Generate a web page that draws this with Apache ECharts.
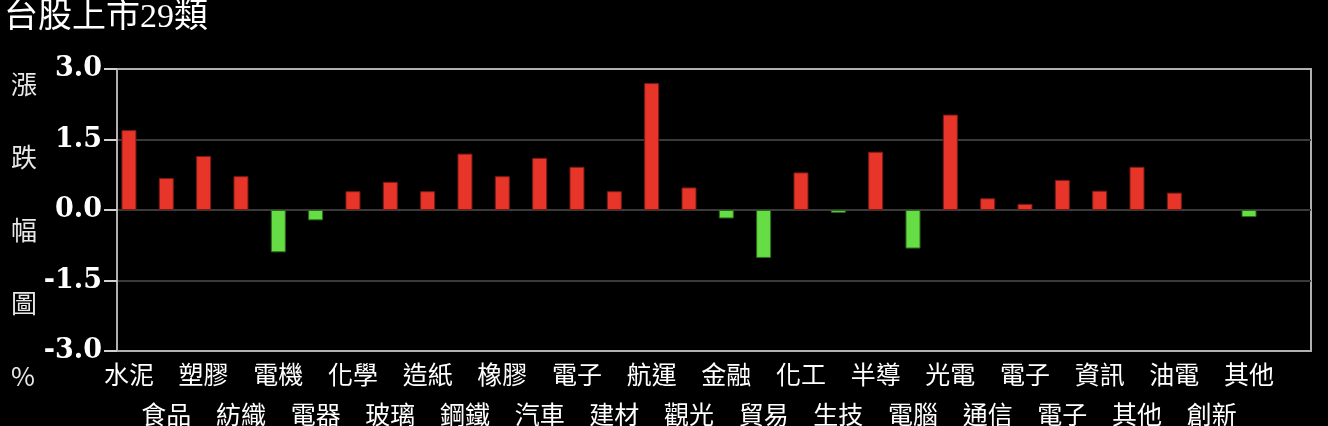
<!DOCTYPE html>
<html>
<head>
<meta charset="utf-8">
<script src="https://cdn.jsdelivr.net/npm/echarts@6/dist/echarts.min.js"></script>
<style>
html,body{margin:0;padding:0;background:#000;}
#chart{width:1328px;height:426px;}
</style>
</head>
<body>
<div id="chart"></div>
<script>
const titleText = '台股上市29類';
const sideLabel = ['漲', '跌', '幅', '圖', '%'];
const categories = ['水泥','食品','塑膠','紡織','電機','電器','化學','玻璃','造紙','鋼鐵','橡膠','汽車','電子','建材','航運','觀光','金融','貿易','化工','生技','半導','電腦','光電','通信','電子','電子','資訊','其他','油電','創新','其他'];
const values = [1.70, 0.68, 1.15, 0.72, -0.90, -0.22, 0.40, 0.60, 0.40, 1.20, 0.72, 1.11, 0.92, 0.40, 2.70, 0.48, -0.18, -1.02, 0.80, -0.06, 1.24, -0.82, 2.03, 0.25, 0.13, 0.64, 0.41, 0.92, 0.37, 0, -0.15];
const yTicks = [-3.0, -1.5, 0.0, 1.5, 3.0];

const RED = '#e8352a', RED_B = '#7a1a14';
const GREEN = '#66dd44', GREEN_B = '#2a6a1c';

const chart = echarts.init(document.getElementById('chart'), null, {renderer: 'canvas'});
const barData = values.map((v, i) => ({
  value: [i, v],
  itemStyle: {
    color: v >= 0 ? RED : GREEN,
    borderColor: v >= 0 ? RED_B : GREEN_B,
    borderWidth: v === 0 ? 0 : 1
  }
}));
const idx = categories.map((c, i) => i);
const evenIdx = idx.filter(i => i % 2 === 0);
const oddIdx = idx.filter(i => i % 2 === 1);

function makeXAxis(vals, margin, showLine) {
  return {
    type: 'value', min: -0.32, max: 31.66, position: 'bottom',
    axisLine: {show: showLine, onZero: false, lineStyle: {color: '#b0b0b0', width: 2}},
    axisTick: {show: false},
    splitLine: {show: false},
    axisLabel: {
      customValues: vals,
      showMinLabel: true, showMaxLabel: true, hideOverlap: false,
      formatter: v => categories[Math.round(v)],
      color: '#fff', fontSize: 25, margin: margin,
      fontFamily: '"Noto Sans CJK TC", sans-serif'
    }
  };
}

chart.setOption({
  backgroundColor: '#000',
  animation: false,
  title: [
    {
      text: titleText, left: -1, top: -4,
      textStyle: {color: '#fff', fontSize: 34, fontWeight: 'normal', fontFamily: '"Liberation Serif", "Noto Sans CJK TC", serif'}
    },
    {
      text: sideLabel.join('\n'), left: 6, top: 43,
      textStyle: {color: '#e8e8e8', fontSize: 26, fontWeight: 'normal', lineHeight: 73, fontFamily: '"Noto Sans CJK TC", sans-serif'}
    }
  ],
  grid: {left: 117, right: 17, top: 69, bottom: 75, show: true, borderColor: '#b0b0b0', borderWidth: 2, backgroundColor: 'transparent', outerBoundsMode: 'none', containLabel: false},
  xAxis: [makeXAxis(evenIdx, 11, true), makeXAxis(oddIdx, 51, false)],
  yAxis: {
    type: 'value', min: -3, max: 3, interval: 1.5,
    axisLine: {show: true, onZero: false, lineStyle: {color: '#b0b0b0', width: 2}},
    axisTick: {show: true, length: 13, lineStyle: {color: '#d0d0d0', width: 2}},
    splitLine: {show: true, showMinLine: false, showMaxLine: false, lineStyle: {color: '#3a3a3a', width: 2}},
    axisLabel: {
      formatter: v => v.toFixed(1),
      color: '#fff', fontSize: 27, fontWeight: 'bold', margin: 15,
      fontFamily: '"DejaVu Serif", serif'
    }
  },
  series: [{
    type: 'bar', barWidth: 15, xAxisIndex: 0, data: barData
  }]
});
</script>
</body>
</html>
